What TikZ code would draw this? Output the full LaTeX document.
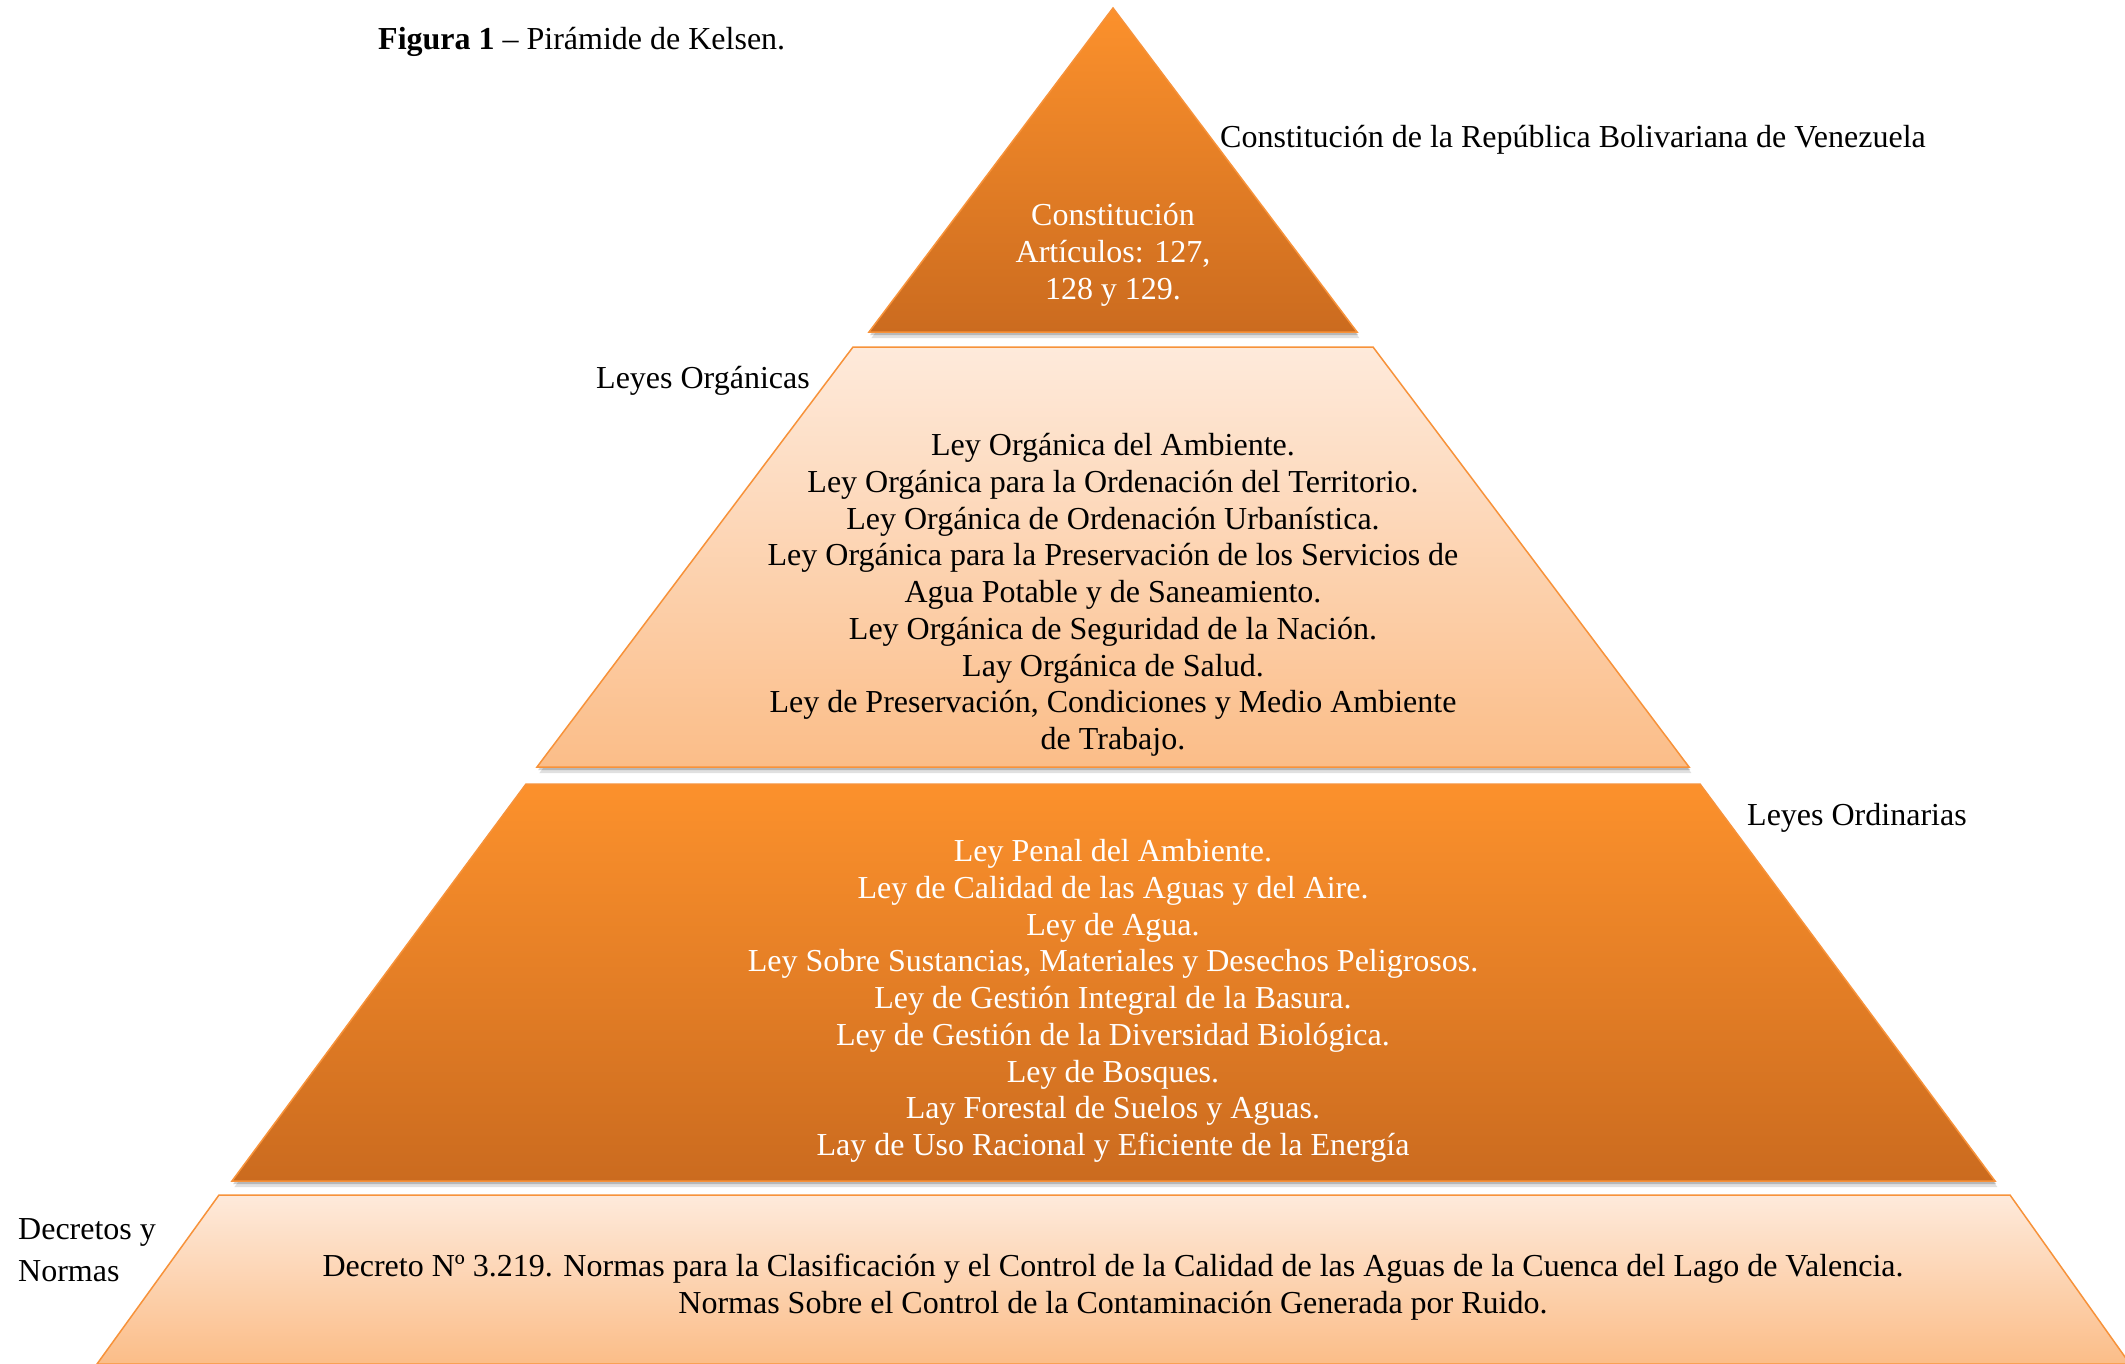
\documentclass[tikz,border=0pt]{standalone}
\usepackage{fontspec}
\setmainfont{Liberation Serif}
\definecolor{orDarkTop}{HTML}{FC912C}
\definecolor{orDarkBot}{HTML}{CB6B1F}
\definecolor{orLightTop}{HTML}{FEEADB}
\definecolor{orLightBot}{HTML}{FBBD88}
\definecolor{orEdge}{HTML}{F7923A}
\begin{document}
\begin{tikzpicture}[x=1pt,y=-1pt,
  darklayer/.style={top color=orDarkTop, bottom color=orDarkBot, draw=orEdge, line width=1.5pt, line join=miter},
  lightlayer/.style={top color=orLightTop, bottom color=orLightBot, draw=orEdge, line width=1.5pt, line join=miter},
  shadowA/.style={fill=black, opacity=0.12},
  shadowB/.style={fill=black, opacity=0.18},
  txt/.style={font=\fontsize{32}{36.75}\selectfont, inner sep=0pt, align=center},
  wtxt/.style={txt, text=white},
  sidetxt/.style={font=\fontsize{32}{36.75}\selectfont, inner sep=0pt, align=left, anchor=west}]
\useasboundingbox (0,0) rectangle (2125,1363);
\fill[white] (0,0) rectangle (2125,1363);

% shadows
\foreach \s/\st in {6/shadowA,3/shadowB}{
  \fill[\st] ([shift={(\s*0.4,\s)}]1113,8) -- ([shift={(\s*0.4,\s)}]1357,332) -- ([shift={(\s*0.4,\s)}]869,332) -- cycle;
  \fill[\st] ([shift={(\s*0.4,\s)}]853,347) -- ([shift={(\s*0.4,\s)}]1373,347) -- ([shift={(\s*0.4,\s)}]1689,767) -- ([shift={(\s*0.4,\s)}]537,767) -- cycle;
  \fill[\st] ([shift={(\s*0.4,\s)}]526,784) -- ([shift={(\s*0.4,\s)}]1700,784) -- ([shift={(\s*0.4,\s)}]1995,1181) -- ([shift={(\s*0.4,\s)}]232,1181) -- cycle;
}

% layers
\shadedraw[darklayer] (1113,8) -- (1357,332) -- (869,332) -- cycle;
\shadedraw[lightlayer] (853,347) -- (1373,347) -- (1689,767) -- (537,767) -- cycle;
\shadedraw[darklayer] (526,784) -- (1700,784) -- (1995,1181) -- (232,1181) -- cycle;
\shadedraw[lightlayer] (219,1195) -- (2010,1195) -- (2130,1364) -- (97,1364) -- cycle;

% texts
\node[sidetxt] (fig) at (378,42) {\textbf{Figura 1} – Pirámide de Kelsen.};
\node[sidetxt] (crbv) at (1220,140) {Constitución de la República Bolivariana de Venezuela};
\node[wtxt] (t1) at (1113,255) {Constitución\\Artículos: 127,\\128 y 129.};
\node[sidetxt] (lo) at (596,381) {Leyes Orgánicas};
\node[txt] (t2) at (1113,595) {Ley Orgánica del Ambiente.\\
Ley Orgánica para la Ordenación del Territorio.\\
Ley Orgánica de Ordenación Urbanística.\\
Ley Orgánica para la Preservación de los Servicios de\\
Agua Potable y de Saneamiento.\\
Ley Orgánica de Seguridad de la Nación.\\
Lay Orgánica de Salud.\\
Ley de Preservación, Condiciones y Medio Ambiente\\
de Trabajo.};
\node[sidetxt] (lord) at (1747,818) {Leyes Ordinarias};
\node[wtxt] (t3) at (1113,1001) {Ley Penal del Ambiente.\\
Ley de Calidad de las Aguas y del Aire.\\
Ley de Agua.\\
Ley Sobre Sustancias, Materiales y Desechos Peligrosos.\\
Ley de Gestión Integral de la Basura.\\
Ley de Gestión de la Diversidad Biológica.\\
Ley de Bosques.\\
Lay Forestal de Suelos y Aguas.\\
Lay de Uso Racional y Eficiente de la Energía};
\node[sidetxt, font=\fontsize{32}{42}\selectfont] (dn) at (18,1250) {Decretos y\\Normas};
\node[txt] (t4) at (1113,1287) {Decreto Nº 3.219. Normas para la Clasificación y el Control de la Calidad de las Aguas de la Cuenca del Lago de Valencia.\\
Normas Sobre el Control de la Contaminación Generada por Ruido.};
\end{tikzpicture}
\end{document}
